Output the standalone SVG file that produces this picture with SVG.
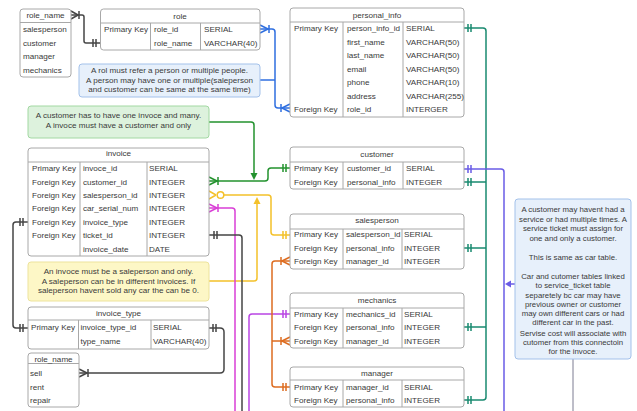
<svg xmlns="http://www.w3.org/2000/svg" width="637" height="411" viewBox="0 0 637 411">
<style>
text{font-family:"Liberation Sans",Arial,sans-serif;font-size:8.1px;fill:#3a3a3a}
.c{text-anchor:middle}
.s{font-size:7.8px}
.tb{fill:#fff;stroke:#a8a8a8;stroke-width:1}
.ln{stroke:#a8a8a8;stroke-width:1;fill:none}
.cn{fill:none;stroke-width:1.5}
.dk{stroke:#454545}.bl{stroke:#2f6fe0}.tl{stroke:#1a8a70}.gr{stroke:#23922e}.ye{stroke:#f4c12a}.mg{stroke:#d93fd6}.mp{stroke:#b945e3}.or{stroke:#dd6c20}.pu{stroke:#6a5ce6}.gy{stroke:#7c7c92}
.nb{fill:#e7f0fb;stroke:#a3c1ea}.ng{fill:#ddf2dd;stroke:#a2d8a2}.ny{fill:#fdf7c6;stroke:#ede39c}
</style>
<g id="connectors">
<path class="cn dk" d="M71,15 H82 Q84,15 84,17 V41 Q84,43 86,43 H100"/>
<path class="cn dk" d="M78,15 L71,11 M78,15 L71,19 M79,11 V19 M93,39 V47 M96,39 V47"/>
<path class="cn bl" d="M260,29 H272 Q275,29 275,32 V105 Q275,108 278,108 H290"/>
<path class="cn bl" d="M268,29 L260,25 M268,29 L260,33 M269,25 V33 M282,108 L290,104 M282,108 L290,112 M281,104 V112"/>
<path class="cn bl" d="M260,80 H275"/>
<path class="cn tl" d="M464,28 H483 Q486,28 486,31 V397 Q486,400 483,400 H464 M486,182 H464 M486,248 H464 M486,327 H464"/>
<path class="cn tl" d="M468,24 V32 M471,24 V32 M468,178 V186 M471,178 V186 M468,244 V252 M471,244 V252 M468,323 V331 M471,323 V331 M468,396 V404 M471,396 V404"/>
<path class="cn gr" d="M209,181 H265 Q268,181 268,178 V171 Q268,168 271,168 H290"/>
<path class="cn gr" d="M217,181 L209,177 M217,181 L209,185 M218,177 V185 M283,164 V172 M286,164 V172"/>
<path class="cn gr" d="M209,122 H251 Q254,122 254,125 V174"/>
<path fill="#23922e" d="M250.5,173 L257.5,173 L254,180 Z"/>
<path class="cn ye" d="M224,195 H268 Q271,195 271,198 V232 Q271,235 274,235 H290"/>
<path class="cn ye" d="M216,195 L209,191 M216,195 L209,199"/>
<circle cx="220.5" cy="195" r="3.3" fill="#fff" stroke="#f4c12a" stroke-width="1.5"/>
<path class="cn ye" d="M283,231 V239 M286,231 V239"/>
<path class="cn ye" d="M209,281 H254 Q257,281 257,278 V203"/>
<path fill="#f4c12a" d="M253.5,204 L260.5,204 L257,197 Z"/>
<path class="cn mg" d="M209,208 H232 Q235,208 235,211 V411"/>
<path class="cn mg" d="M217,208 L209,204 M217,208 L209,212 M218,204 V212"/>
<path class="cn mp" d="M290,314 H252 Q249,314 249,317 V411"/>
<path class="cn mp" d="M283,310 V318 M286,310 V318"/>
<path class="cn dk" d="M209,235 H239 Q242,235 242,238 V411"/>
<path class="cn dk" d="M214,231 V239 M217,231 V239"/>
<path class="cn dk" d="M28,222 H16 Q13,222 13,225 V325 Q13,328 16,328 H28"/>
<path class="cn dk" d="M20,218 V226 M23,218 V226 M20,324 V332 M23,324 V332"/>
<path class="cn dk" d="M209,328 H220 Q224,328 224,332 V369 Q224,373 220,373 H79"/>
<path class="cn dk" d="M213,324 V332 M216,324 V332 M87,373 L79,369 M87,373 L79,377 M88,369 V377"/>
<path class="cn or" d="M290,261 H275 Q272,261 272,264 V384 Q272,387 275,387 H290 M272,341 H290"/>
<path class="cn or" d="M282,261 L290,257 M282,261 L290,265 M281,257 V265 M282,341 L290,337 M282,341 L290,345 M281,337 V345 M283,383 V391 M286,383 V391"/>
<path class="cn pu" d="M464,169 H501 Q504,169 504,172 V411"/>
<path class="cn pu" d="M468,165 V173 M471,165 V173"/>
<path class="cn pu" d="M515,284 H510"/>
<path fill="#6a5ce6" d="M511,280.5 L511,287.5 L505,284 Z"/>
<path class="cn gy" style="stroke-width:1" d="M573,359 V411"/>
</g>
<g id="role_name_1">
<rect class="tb" x="20" y="9" width="51" height="68" rx="3"/>
<path class="ln" d="M20,22.5 H71"/>
<text class="c" x="45.5" y="18">role_name</text>
<text x="23" y="32">salesperson</text><text x="23" y="46">customer</text><text x="23" y="59">manager</text><text x="23" y="73">mechanics</text>
</g>
<g id="role">
<rect class="tb" x="100.5" y="9" width="159.5" height="41" rx="3"/>
<path class="ln" d="M100.5,23 H260 M150.5,23 V50 M200.5,23 V50"/>
<text class="c" x="180" y="19">role</text>
<text x="104" y="32">Primary Key</text><text x="154" y="32">role_id</text><text x="204" y="32">SERIAL</text>
<text x="154" y="46">role_name</text><text x="204" y="46">VARCHAR(40)</text>
</g>
<g id="note_role">
<rect class="nb" x="79" y="64" width="181" height="33" rx="3"/>
<text class="c" x="169.5" y="73">A rol must refer a person or multiple people.</text>
<text class="c" x="169.5" y="82.5">A person may have one or multiple(saleperson</text>
<text class="c" x="169.5" y="92">and customer can be same at the same time)</text>
</g>
<g id="personal_info">
<rect class="tb" x="290" y="8" width="174" height="109" rx="3"/>
<path class="ln" d="M290,22 H464 M343,22 V117 M403,22 V117"/>
<text class="c" x="377" y="17.5">personal_info</text>
<text x="294" y="31">Primary Key</text><text x="347" y="31">person_info_id</text><text x="406" y="31">SERIAL</text>
<text x="347" y="45">first_name</text><text x="406" y="45">VARCHAR(50)</text>
<text x="347" y="58">last_name</text><text x="406" y="58">VARCHAR(50)</text>
<text x="347" y="72">email</text><text x="406" y="72">VARCHAR(50)</text>
<text x="347" y="85">phone</text><text x="406" y="85">VARCHAR(10)</text>
<text x="347" y="99">address</text><text x="406" y="99">VARCHAR(255)</text>
<text x="294" y="112">Foreign Key</text><text x="347" y="112">role_id</text><text x="406" y="112">INTERGER</text>
</g>
<g id="note_customer">
<rect class="ng" x="28" y="106" width="181" height="32" rx="3"/>
<text class="c" x="118.5" y="118">A customer has to have one invoce and many.</text>
<text class="c" x="118.5" y="128">A invoce must have a customer and only</text>
</g>
<g id="invoice">
<rect class="tb" x="28" y="148" width="181" height="108" rx="3"/>
<path class="ln" d="M28,162 H209 M80,162 V256 M147,162 V256"/>
<text class="c" x="118.5" y="156">invoice</text>
<text x="32" y="171">Primary Key</text><text x="83" y="171">invoce_id</text><text x="149" y="171">SERIAL</text>
<text x="32" y="184.5">Foreign Key</text><text x="83" y="184.5">customer_id</text><text x="149" y="184.5">INTEGER</text>
<text x="32" y="198">Foreign Key</text><text x="83" y="198">salesperson_id</text><text x="149" y="198">INTEGER</text>
<text x="32" y="211">Foreign Key</text><text x="83" y="211">car_serial_num</text><text x="149" y="211">INTEGER</text>
<text x="32" y="225">Foreign Key</text><text x="83" y="225">invoice_type</text><text x="149" y="225">INTEGER</text>
<text x="32" y="238">Foreign Key</text><text x="83" y="238">ticket_id</text><text x="149" y="238">INTEGER</text>
<text x="83" y="251.5">invoice_date</text><text x="149" y="251.5">DATE</text>
</g>
<g id="note_salesperson">
<rect class="ny" x="28" y="262" width="181" height="39" rx="3"/>
<text class="c" x="118.5" y="274">An invoce must be a saleperson and only.</text>
<text class="c" x="118.5" y="283.5">A saleperson can be in different invoices. If</text>
<text class="c" x="118.5" y="293">saleperson havent sold any car the can be 0.</text>
</g>
<g id="invoice_type">
<rect class="tb" x="28" y="307" width="181" height="42" rx="3"/>
<path class="ln" d="M28,320 H209 M78.5,320 V349 M151,320 V349"/>
<text class="c" x="118.5" y="316">invoice_type</text>
<text x="31" y="330">Primary Key</text><text x="80.5" y="330">invoice_type_id</text><text x="153" y="330">SERIAL</text>
<text x="80.5" y="344">type_name</text><text x="153" y="344">VARCHAR(40)</text>
</g>
<g id="role_name_2">
<rect class="tb" x="28" y="353" width="51" height="54" rx="3"/>
<path class="ln" d="M28,363.5 H79"/>
<text class="c" x="53.5" y="362">role_name</text>
<text x="30" y="376">sell</text><text x="30" y="390">rent</text><text x="30" y="403">repair</text>
</g>
<g id="customer">
<rect class="tb" x="290" y="147" width="174" height="42" rx="3"/>
<path class="ln" d="M290,162 H464 M343,162 V189 M403,162 V189"/>
<text class="c" x="377" y="157">customer</text>
<text x="294" y="171">Primary Key</text><text x="347" y="171">customer_id</text><text x="406" y="171">SERIAL</text>
<text x="294" y="185">Foreign Key</text><text x="347" y="185">personal_info</text><text x="406" y="185">INTEGER</text>
</g>
<g id="salesperson">
<rect class="tb" x="290" y="214" width="174" height="55" rx="3"/>
<path class="ln" d="M290,229 H464 M343,229 V269 M402,229 V269"/>
<text class="c" x="377" y="223">salesperson</text>
<text x="294" y="237">Primary Key</text><text x="346" y="237">salesperson_id</text><text x="404" y="237">SERIAL</text>
<text x="294" y="251">Foreign Key</text><text x="346" y="251">personal_info</text><text x="404" y="251">INTEGER</text>
<text x="294" y="264">Foreign Key</text><text x="346" y="264">manager_id</text><text x="404" y="264">INTEGER</text>
</g>
<g id="mechanics">
<rect class="tb" x="290" y="293" width="174" height="55" rx="3"/>
<path class="ln" d="M290,308 H464 M343,308 V348 M402,308 V348"/>
<text class="c" x="377" y="303">mechanics</text>
<text x="294" y="317">Primary Key</text><text x="346" y="317">mechanics_id</text><text x="404" y="317">SERIAL</text>
<text x="294" y="330">Foreign Key</text><text x="346" y="330">personal_info</text><text x="404" y="330">INTEGER</text>
<text x="294" y="344">Foreign Key</text><text x="346" y="344">manager_id</text><text x="404" y="344">INTEGER</text>
</g>
<g id="manager">
<rect class="tb" x="290" y="367" width="174" height="40" rx="3"/>
<path class="ln" d="M290,380 H464 M343,380 V407 M402,380 V407"/>
<text class="c" x="377" y="376">manager</text>
<text x="294" y="390">Primary Key</text><text x="346" y="390">manager_id</text><text x="404" y="390">SERIAL</text>
<text x="294" y="403">Foreign Key</text><text x="346" y="403">personal_info</text><text x="404" y="403">INTEGER</text>
</g>
<g id="note_service">
<rect class="nb" x="515" y="199" width="116" height="160" rx="3"/>
<text class="c s" x="573" y="212">A customer may havent had a</text>
<text class="c s" x="573" y="221.5">service or had multiple times. A</text>
<text class="c s" x="573" y="231">service ticket must assign for</text>
<text class="c s" x="573" y="240.5">one and only a customer.</text>
<text class="c s" x="573" y="260">This is same as car table.</text>
<text class="c s" x="573" y="279">Car and cutomer tables linked</text>
<text class="c s" x="573" y="288">to service_ticket table</text>
<text class="c s" x="573" y="297.5">separetely bc car may have</text>
<text class="c s" x="573" y="306.5">previous owner or customer</text>
<text class="c s" x="573" y="315.5">may own different cars or had</text>
<text class="c s" x="573" y="324.5">different car in the past.</text>
<text class="c s" x="573" y="336">Servise cost will associate with</text>
<text class="c s" x="573" y="345">cutomer from this connectoin</text>
<text class="c s" x="573" y="354">for the invoce.</text>
</g>
</svg>
